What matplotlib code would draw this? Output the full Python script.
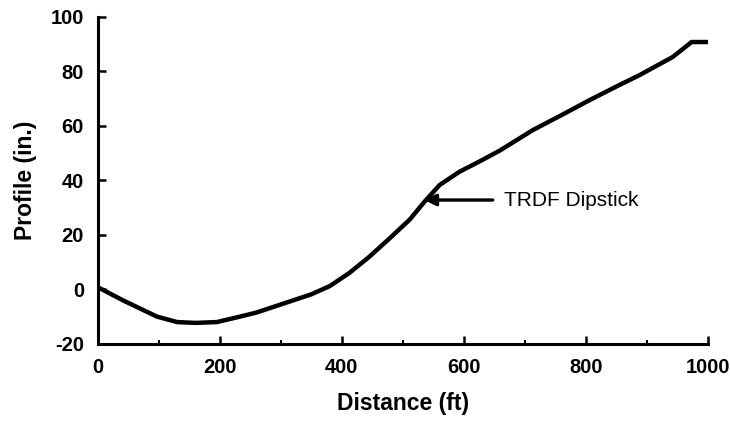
import numpy as np
import matplotlib
matplotlib.use("Agg")
import matplotlib.pyplot as plt

plt.rcParams['font.family'] = ['Liberation Sans', 'DejaVu Sans']
plt.rcParams['axes.unicode_minus'] = False

# profile
distance = [0, 41, 97, 130, 160, 195, 233, 260, 303, 350, 380, 412, 445, 478,
            511, 535, 560, 592, 630, 659, 713, 760, 806, 850, 888, 942, 973, 1000]
profile = [0.8, -4, -10, -12, -12.3, -12, -10, -8.5, -5.3, -1.8, 1.2, 6, 12, 18.7,
           25.6, 32.1, 38.3, 43.1, 47.5, 51, 58.5, 64, 69.5, 74.5, 78.7, 85.3, 90.8, 90.8]

label_text = "TRDF Dipstick"
arrow_tip = (535, 32.8)
label_pos = (665, 32.8)

fig = plt.figure(figsize=(7.3, 4.24), dpi=100)
ax = fig.add_axes([0.134, 0.189, 0.836, 0.771])

ax.plot(distance, profile, color='black', lw=3.2, solid_joinstyle='round')

ax.annotate('', xy=arrow_tip, xytext=(label_pos[0] - 18, label_pos[1]),
            arrowprops=dict(arrowstyle='-|>', color='black', lw=2.4,
                            mutation_scale=17, shrinkA=0, shrinkB=0))
ax.text(label_pos[0], label_pos[1], label_text, ha='left', va='center',
        fontsize=15)

ax.set_xlim(0, 1000)
ax.set_ylim(-20, 100)
ax.set_xticks(np.arange(0, 1001, 200))
ax.set_xticks(np.arange(100, 1000, 200), minor=True)
ax.set_yticks(np.arange(-20, 101, 20))

for s in ['top', 'right']:
    ax.spines[s].set_visible(False)
for s in ['left', 'bottom']:
    ax.spines[s].set_linewidth(2.2)

ax.tick_params(which='major', direction='in', length=6, width=1.8,
               labelsize=14.5, pad=10)
ax.tick_params(which='minor', direction='in', length=3, width=1.5)
for lab in ax.get_xticklabels() + ax.get_yticklabels():
    lab.set_fontweight('bold')

ax.set_xlabel("Distance (ft)", fontsize=16.5, fontweight='bold', labelpad=11)
ax.set_ylabel("Profile (in.)", fontsize=16.5, fontweight='bold', labelpad=10)

fig.savefig("out.png", dpi=100)
